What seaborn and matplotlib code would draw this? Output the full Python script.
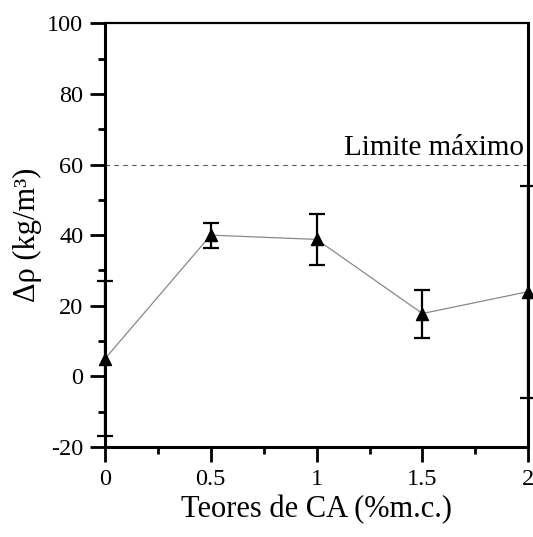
import seaborn as sns
import matplotlib.pyplot as plt
from matplotlib.ticker import MultipleLocator

# teor de CA (%m.c.) vs variacao de massa especifica
teores = [0, 0.5, 1, 1.5, 2]
delta_rho = [5, 40, 38.8, 17.8, 24]
erro = [22, 3.5, 7.3, 6.8, 30]
limite = 60

sns.set_theme(style="ticks")
plt.rcParams['font.family'] = ['Liberation Serif', 'DejaVu Serif']
plt.rcParams['axes.unicode_minus'] = False
plt.rcParams['text.color'] = 'black'
plt.rcParams['axes.labelcolor'] = 'black'
plt.rcParams['xtick.color'] = 'black'
plt.rcParams['ytick.color'] = 'black'

fig = plt.figure(figsize=(5.33, 5.37), dpi=100)
ax = fig.add_axes([0.197, 0.1676, 0.794, 0.789])

ax.plot([0, 2], [limite, limite], ls=(0, (4, 4)), color='#555555', lw=0.8)
ax.text(1.98, limite + 2.6, 'Limite máximo', ha='right', va='baseline', fontsize=21)

sns.lineplot(x=teores, y=delta_rho, ax=ax, color='#888888', lw=0.9, zorder=3)
ax.errorbar(teores, delta_rho, yerr=erro, fmt='none', ecolor='black',
            elinewidth=1.6, capsize=5.5, capthick=1.6, clip_on=False, zorder=4)
ax.scatter(teores, delta_rho, marker='^', s=75, color='black', zorder=5, clip_on=False)

ax.set_xlim(0, 2)
ax.set_ylim(-20, 100)
ax.set_xticks([0, 0.5, 1, 1.5, 2])
ax.set_xticklabels(['0', '0.5', '1', '1.5', '2'])
ax.xaxis.set_minor_locator(MultipleLocator(0.25))
ax.yaxis.set_major_locator(MultipleLocator(20))
ax.yaxis.set_minor_locator(MultipleLocator(10))

ax.tick_params(which='major', direction='out', length=10.5, width=2, labelsize=17.5, pad=5,
               top=False, right=False, colors='black')
ax.tick_params(which='minor', direction='out', length=5, width=2, top=False, right=False,
               colors='black')

for side in ['left', 'right', 'bottom']:
    ax.spines[side].set_linewidth(2.2)
ax.spines['top'].set_linewidth(1.6)
for s in ax.spines.values():
    s.set_color('black')
    s.set_visible(True)

ax.set_xlabel('Teores de CA (%m.c.)', fontsize=22, labelpad=4, color='black')
ax.set_ylabel('Δρ (kg/m³)', fontsize=22, labelpad=4, color='black')

fig.savefig('out.png', dpi=100)
